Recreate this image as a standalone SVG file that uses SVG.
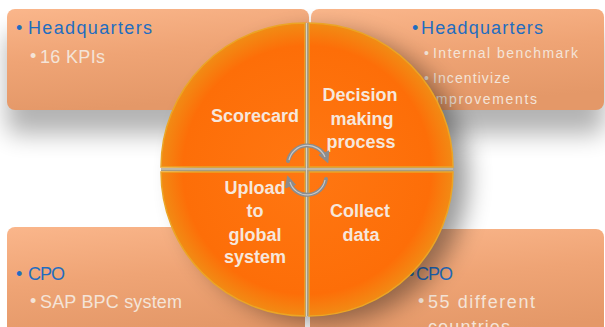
<svg xmlns="http://www.w3.org/2000/svg" width="605" height="327" viewBox="0 0 605 327">
<defs>
<style>
.box{fill:url(#boxg);}
.hd{font-family:"Liberation Sans",Arial,sans-serif;font-size:18px;fill:#1F6DC0;}
.sub{font-family:"Liberation Sans",Arial,sans-serif;font-size:18px;fill:#F4E4D8;}
.subs{font-family:"Liberation Sans",Arial,sans-serif;font-size:14px;fill:#F4E4D8;}
.lbl{font-family:"Liberation Sans",Arial,sans-serif;font-size:18px;font-weight:bold;fill:#F6E7DC;text-anchor:middle;}
.quad{fill:url(#qg);stroke:#EBA526;stroke-width:1.5;}
.div{stroke:#A79C84;stroke-width:3;fill:none;}
.divh{stroke:#D8D2C4;stroke-width:1;fill:none;}
.arc{fill:none;stroke:#8C8C8C;stroke-width:4;stroke-linecap:round;}
.arch{fill:none;stroke:#C8C8C8;stroke-width:1.2;}
</style>
<linearGradient id="boxg" x1="0" y1="0" x2="0.25" y2="1">
<stop offset="0" stop-color="#FAB68B"/>
<stop offset="0.5" stop-color="#EFA475"/>
<stop offset="1" stop-color="#E49868"/>
</linearGradient>
<radialGradient id="qg" cx="307" cy="170" r="146" gradientUnits="userSpaceOnUse">
<stop offset="0" stop-color="#FF7712"/>
<stop offset="0.85" stop-color="#FD6E08"/>
<stop offset="1" stop-color="#F28A14"/>
</radialGradient>
<filter id="bsh" x="-20%" y="-30%" width="140%" height="180%">
<feGaussianBlur in="SourceAlpha" stdDeviation="12"/>
<feOffset dx="0" dy="24"/>
<feComponentTransfer><feFuncA type="linear" slope="0.3"/></feComponentTransfer>
</filter>
<filter id="csh" x="-30%" y="-30%" width="160%" height="160%">
<feGaussianBlur in="SourceAlpha" stdDeviation="12"/>
<feOffset dx="16" dy="8"/>
<feComponentTransfer><feFuncA type="linear" slope="0.4"/></feComponentTransfer>
</filter>
<marker id="ah" viewBox="0 0 10 10" refX="5" refY="5" markerWidth="3" markerHeight="3" orient="auto">
<path d="M0,0 L10,5 L0,10 z" fill="#8C8C8C"/>
</marker>
</defs>

<g id="box-shadows" filter="url(#bsh)">
<rect x="7" y="9" width="302" height="101" rx="8"/>
<rect x="311" y="9" width="293" height="101" rx="8"/>
</g>

<g id="box-tl">
<rect class="box" x="7" y="9" width="302" height="101" rx="8"/>
<text class="hd" x="16" y="34">•</text>
<text class="hd" x="28" y="34" textLength="124">Headquarters</text>
<text class="sub" x="30" y="62" font-size="14">•</text>
<text class="sub" x="40" y="63" textLength="65">16 KPIs</text>
</g>

<g id="box-tr">
<rect class="box" x="311" y="9" width="293" height="101" rx="8"/>
<text class="hd" x="412" y="34">•</text>
<text class="hd" x="421" y="34" textLength="122">Headquarters</text>
<text class="subs" x="424" y="58" font-size="11">•</text>
<text class="subs" x="433" y="58" textLength="145">Internal  benchmark</text>
<text class="subs" x="424" y="83" font-size="11">•</text>
<text class="subs" x="433" y="83" textLength="77">Incentivize</text>
<text class="subs" x="431" y="104" textLength="106">improvements</text>
</g>

<g id="box-bl">
<rect class="box" x="7" y="227" width="298" height="112" rx="8"/>
<text class="hd" x="16" y="280">•</text>
<text class="hd" x="28" y="280" textLength="37">CPO</text>
<text class="sub" x="30" y="307" font-size="14">•</text>
<text class="sub" x="40" y="308" textLength="142">SAP BPC system</text>
</g>

<g id="box-br">
<rect class="box" x="310" y="229" width="294" height="112" rx="8"/>
<text class="hd" x="408" y="280">•</text>
<text class="hd" x="416" y="280" textLength="37">CPO</text>
<text class="sub" x="418" y="307" font-size="14">•</text>
<text class="sub" x="428" y="308" textLength="107">55 different</text>
<text class="sub" x="428" y="333" textLength="82">countries</text>
</g>

<g id="circle-shadow" filter="url(#csh)">
<circle cx="307" cy="170" r="145"/>
</g>

<g id="q-scorecard">
<path class="quad" d="M305,167 L161,167 A144,144 0 0 1 305,23 Z"/>
<text class="lbl" x="255" y="122" font-size="14">Scorecard</text>
</g>

<g id="q-decision">
<path class="quad" d="M309,167 L309,23 A144,144 0 0 1 453,167 Z"/>
<text class="lbl" x="360" y="101">Decision</text>
<text class="lbl" x="362" y="125">making</text>
<text class="lbl" x="361" y="148">process</text>
</g>

<g id="q-upload">
<path class="quad" d="M305,172 L305,316 A144,144 0 0 1 161,172 Z"/>
<text class="lbl" x="255" y="194">Upload</text>
<text class="lbl" x="255" y="217">to</text>
<text class="lbl" x="255" y="241">global</text>
<text class="lbl" x="255" y="263">system</text>
</g>

<g id="q-collect">
<path class="quad" d="M309,172 L453,172 A144,144 0 0 1 309,316 Z"/>
<text class="lbl" x="360" y="217" fill="#EAD9CC">Collect</text>
<text class="lbl" x="361" y="241" fill="#EAD9CC">data</text>
</g>

<g id="dividers">
<line class="div" x1="161" y1="169.5" x2="453" y2="169.5"/>
<line class="div" x1="307" y1="23" x2="307" y2="316"/>
<line class="divh" x1="161" y1="169" x2="453" y2="169"/>
<line class="divh" x1="306.5" y1="23" x2="306.5" y2="316"/>
</g>

<g id="connectors">
<path class="arc" d="M288,161 A20,20 0 0 1 326,158" marker-end="url(#ah)"/>
<path class="arch" d="M289,160 A19,19 0 0 1 325,157"/>
<path class="arc" d="M326,179 A19,19 0 0 1 289,181" marker-end="url(#ah)"/>
<path class="arch" d="M325,180 A18,18 0 0 1 290,182"/>
</g>
</svg>
